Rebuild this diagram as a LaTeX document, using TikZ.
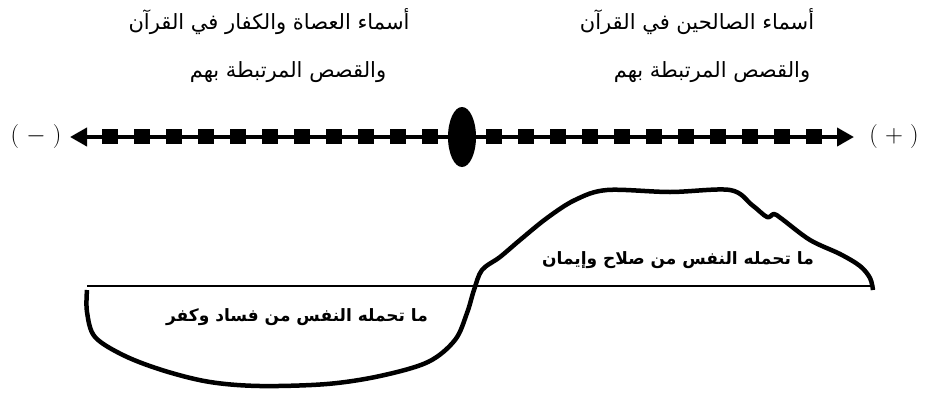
\documentclass[tikz,border=0pt]{standalone}
\usepackage{fontspec}
\usepackage{tikz}
\usetikzlibrary{arrows.meta,shapes.geometric}
\TeXXeTstate=1
\newfontfamily\arabicfont[Script=Arabic]{DejaVu Sans}

\tikzset{
  toptext/.style={font=\arabicfont\fontsize{21}{25}\selectfont,inner sep=1pt},
  lowtext/.style={font=\arabicfont\bfseries\fontsize{17}{20}\selectfont,inner sep=1pt},
  signtext/.style={font=\fontsize{24}{28}\selectfont,inner sep=1pt},
  axisline/.style={line width=4pt,{Triangle[length=17pt,width=18pt]}-{Triangle[length=17pt,width=18pt]}},
  sq/.style={fill=black}
}

\begin{document}
\begin{tikzpicture}[x=1pt,y=-1pt]
\useasboundingbox (0,0) rectangle (926,394);
\node[toptext] (badA) at (269,22) {\beginR أسماء العصاة والكفار في القرآن\endR};
\node[toptext] (badB) at (288,72) {\beginR والقصص المرتبطة بهم\endR};
\node[toptext] (goodA) at (697,22) {\beginR أسماء الصالحين في القرآن\endR};
\node[toptext] (goodB) at (712,72) {\beginR والقصص المرتبطة بهم\endR};
\node[signtext] (minus) at (36,137) {( $-$ )};
\node[signtext] (plus) at (894,137) {( $+$ )};
\coordinate (axL) at (70,137);
\coordinate (axR) at (854,137);
\draw[axisline] (axL) -- (axR);
\foreach \i in {0,...,10}
  {\fill[sq] (102+32*\i,129) rectangle ++(16,15);
   \fill[sq] (486+32*\i,129) rectangle ++(16,15);}
\node[ellipse,fill=black,minimum width=28pt,minimum height=60pt,inner sep=0pt] (zero) at (462,137) {};
\coordinate (baseL) at (87,286);
\coordinate (baseR) at (872,286);
\draw[line width=2pt] (baseL) -- (baseR);
\draw[line width=4.5pt,line join=round] plot[smooth,tension=0.55] coordinates {
  (87,290) (87,312) (95,337) (125,356) (165,371) (210,382) (260,386) (327,384)
  (380,376) (428,362) (455,340) (467,313) (474,290) (482,270) (500,257) (520,240)
  (547,218) (575,200) (607,190) (670,192) (730,190) (752,205) (767,217) (774,214)
  (782,219) (810,240) (840,254) (860,266) (870,278) (873,290)};
\node[lowtext] (good) at (678,260) {\beginR ما تحمله النفس من صلاح وإيمان\endR};
\node[lowtext] (bad) at (297,317) {\beginR ما تحمله النفس من فساد وكفر\endR};
\end{tikzpicture}
\end{document}
